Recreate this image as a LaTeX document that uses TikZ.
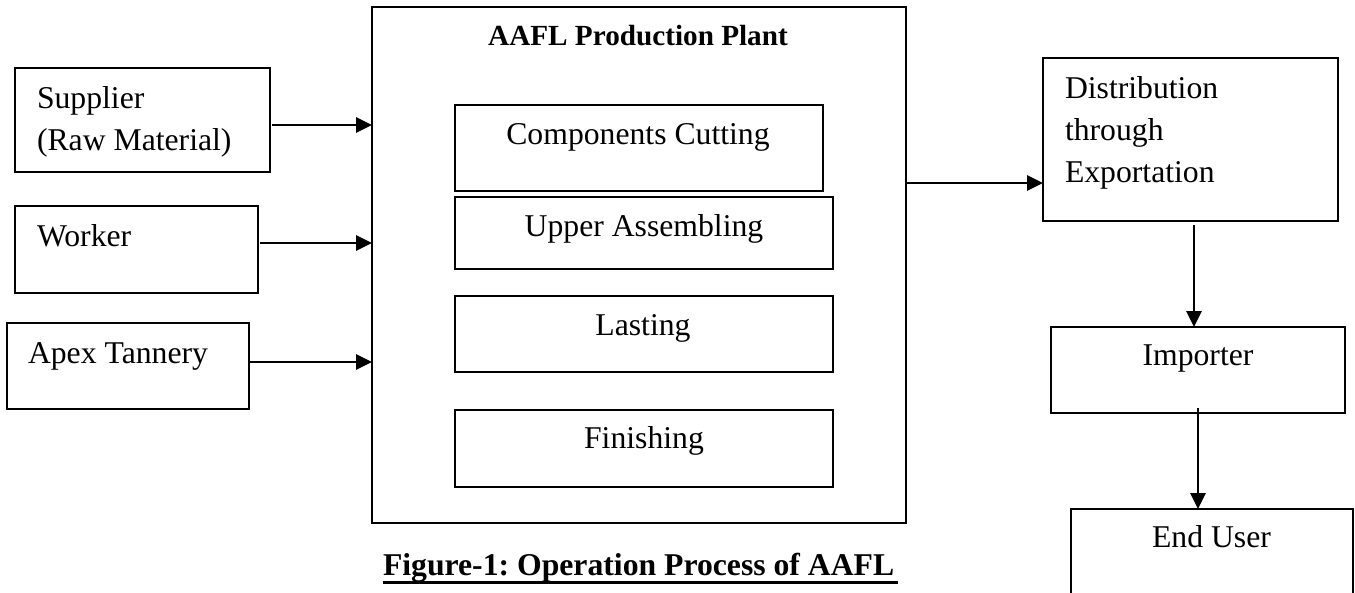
\documentclass[tikz,border=0pt]{standalone}
\usepackage{fontspec}
\setmainfont{Liberation Serif}
\usetikzlibrary{arrows.meta}
\frenchspacing
\begin{document}
\begin{tikzpicture}[x=1pt,y=-1pt,
  box/.style={draw=black, line width=2.2pt, inner sep=0pt, outer sep=0pt, minimum width=#1},
  txt/.style={inner sep=0pt, outer sep=0pt, font=\fontsize{31.7pt}{38pt}\selectfont},
  arr/.style={line width=2.8pt, -{Triangle[length=16pt,width=15pt]}}
]
\useasboundingbox (0,0) rectangle (1355,592);
\clip (0,0) rectangle (1355,592);
\fill[white] (0,0) rectangle (1355,592);
% left boxes
\node[box=255pt, minimum height=104pt] (sup) at (142.5,120) {};
\node[box=243pt, minimum height=87pt] (wrk) at (136.5,249.5) {};
\node[box=242pt, minimum height=86pt] (apx) at (128,366) {};
% main plant
\node[box=534pt, minimum height=516pt, line width=2.6pt] (main) at (639,265) {};
\node[box=368pt, minimum height=86pt] (cc) at (639,148) {};
\node[box=378pt, minimum height=72pt] (ua) at (644,233) {};
\node[box=378pt, minimum height=76pt] (la) at (644,334) {};
\node[box=378pt, minimum height=77pt] (fi) at (644,448.5) {};
% right boxes
\node[box=295pt, minimum height=163pt] (dist) at (1190.5,139.5) {};
\node[box=294pt, minimum height=86pt] (imp) at (1198,370) {};
\node[box=282pt, minimum height=91pt] (eu) at (1212,554.5) {};
% texts
\node[txt, anchor=base west] (tsup1) at (37,108) {Supplier};
\node[txt, anchor=base west] (tsup2) at (37,150) {(Raw Material)};
\node[txt, anchor=base west] (twrk) at (37,246) {Worker};
\node[txt, anchor=base west] (tapx) at (28,363) {Apex Tannery};
\node[txt, anchor=base, font=\fontsize{29.2pt}{35pt}\selectfont\bfseries] (ttitle) at (638,45) {AAFL Production Plant};
\node[txt, anchor=base] (tcc) at (638,144) {Components Cutting};
\node[txt, anchor=base] (tua) at (644,236) {Upper Assembling};
\node[txt, anchor=base] (tla) at (643,335) {Lasting};
\node[txt, anchor=base] (tfi) at (644,448) {Finishing};
\node[txt, anchor=base west] (td1) at (1065,98) {Distribution};
\node[txt, anchor=base west] (td2) at (1065,140) {through};
\node[txt, anchor=base west] (td3) at (1065,182) {Exportation};
\node[txt, anchor=base] (timp) at (1198,365) {Importer};
\node[txt, anchor=base] (teu) at (1211.5,547) {End User};
\node[txt, anchor=base west, font=\fontsize{31.7pt}{38pt}\selectfont\bfseries] (cap) at (383,575) {Figure-1: Operation Process of AAFL};
\draw[line width=3pt] ([yshift=-7pt]cap.base west) -- ([yshift=-7pt,xshift=4pt]cap.base east);
% connector helper coordinates
\coordinate (y1) at (0,125);
\coordinate (y2) at (0,243);
\coordinate (y3) at (0,362);
\coordinate (y4) at (0,183);
\coordinate (x5) at (1194,0);
\coordinate (x6) at (1198,0);
% arrows
\draw[arr] ([xshift=2pt]sup.east |- y1) -- (main.west |- y1);
\draw[arr] ([xshift=2pt]wrk.east |- y2) -- (main.west |- y2);
\draw[arr] (apx.east |- y3) -- (main.west |- y3);
\draw[arr] (main.east |- y4) -- (dist.west |- y4);
\draw[arr] ([yshift=-4pt]x5 |- dist.south) -- (x5 |- imp.north);
\draw[arr] ([yshift=5pt]x6 |- imp.south) -- (x6 |- eu.north);
\end{tikzpicture}
\end{document}
